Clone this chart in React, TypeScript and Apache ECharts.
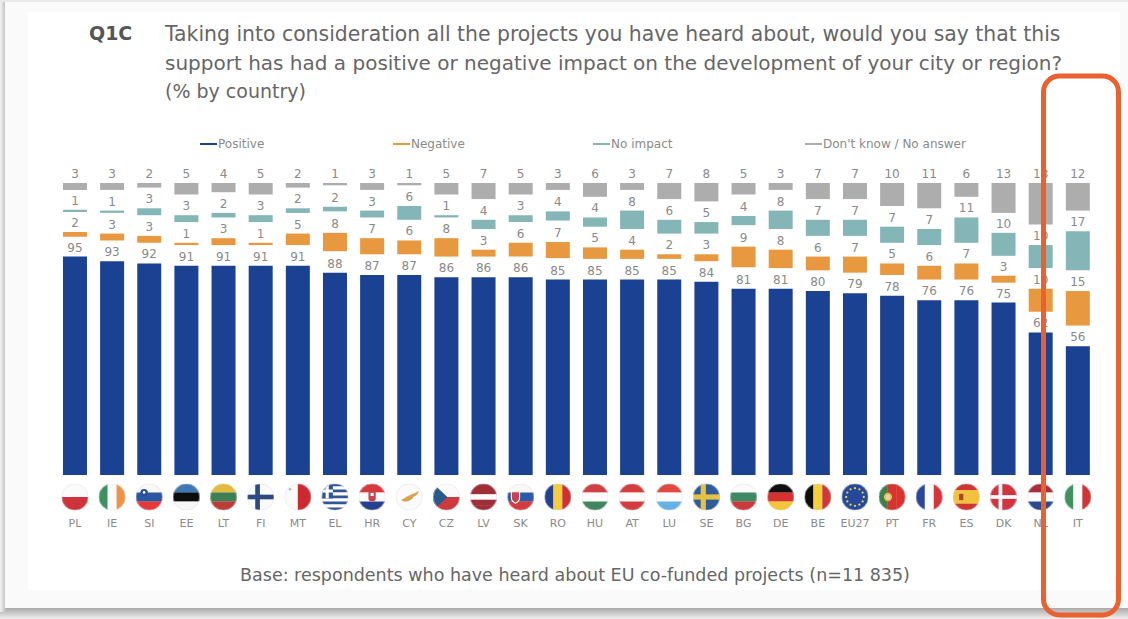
import React, { useEffect, useRef } from "react";
import * as echarts from "echarts";

const categories = ["PL","IE","SI","EE","LT","FI","MT","EL","HR","CY","CZ","LV","SK","RO","HU","AT","LU","SE","BG","DE","BE","EU27","PT","FR","ES","DK","NL","IT"];
const positive = [95,93,92,91,91,91,91,88,87,87,86,86,86,85,85,85,85,84,81,81,80,79,78,76,76,75,62,56];
const negative = [2,3,3,1,3,1,5,8,7,6,8,3,6,7,5,4,2,3,9,8,6,7,5,6,7,3,10,15];
const noImpact = [1,1,3,3,2,3,2,2,3,6,1,4,3,4,4,8,6,5,4,8,7,7,7,7,11,10,10,17];
const dontKnow = [3,3,2,5,4,5,2,1,3,1,5,7,5,3,6,3,7,8,5,3,7,7,10,11,6,13,18,12];

const titleLines = [
  "Taking into consideration all the projects you have heard about, would you say that this",
  "support has had a positive or negative impact on the development of your city or region?",
  "(% by country)",
];
const baseNote = "Base: respondents who have heard about EU co-funded projects (n=11 835)";

const BLUE = "#1b4193";
const ORANGE = "#e8983f";
const TEAL = "#84b6b7";
const GREY = "#adadad";
const TEXT = "#8a8a8a";
const FONT = "'DejaVu Sans', sans-serif";

// The value-axis range: 100 % plus three blank bands that hold the labels.
const BAND = 9;
const AXIS_MAX = 100 + 3 * BAND;

// Rounded shares do not always add up to 100, so the blank bands absorb the
// difference and every column ends at the same height.
const bandHeights = categories.map(
  (_, i) => BAND + (100 - positive[i] - negative[i] - noImpact[i] - dontKnow[i]) / 3,
);

const h = (...c: string[]) =>
  c.map((col, i) => `<rect x="0" y="${(i * 26) / c.length}" width="26" height="${26 / c.length + 0.2}" fill="${col}"/>`).join("");
const v = (...c: string[]) =>
  c.map((col, i) => `<rect y="0" x="${(i * 26) / c.length}" height="26" width="${26 / c.length + 0.2}" fill="${col}"/>`).join("");
const cross = (bg: string, fg: string, w = 5) =>
  `<rect width="26" height="26" fill="${bg}"/><rect x="${10 - w / 2}" width="${w}" height="26" fill="${fg}"/><rect y="${13 - w / 2}" width="26" height="${w}" fill="${fg}"/>`;
const euStars = Array.from({ length: 12 }, (_, i) => {
  const a = (i * Math.PI) / 6;
  return `<circle cx="${13 + 8.5 * Math.cos(a)}" cy="${13 + 8.5 * Math.sin(a)}" r="1.1" fill="#e8d44a"/>`;
}).join("");
const greekStripes = Array.from({ length: 9 }, (_, i) =>
  `<rect y="${(i * 26) / 9}" width="26" height="${26 / 9}" fill="${i % 2 ? "#fff" : "#2f5597"}"/>`,
).join("");

// Drawings clipped into round badges, one for each category.
const flagBodies: Record<string, string> = {
  PL: h("#fbfbfb", "#cf3339"),
  IE: v("#3d9060", "#fbfbfb", "#ee9448"),
  SI: h("#f8f8f8", "#2a56a4", "#e63a3a") + `<circle cx="8" cy="9" r="3.6" fill="#2a4c95"/><circle cx="8" cy="8.6" r="1.3" fill="#fff"/>`,
  EE: h("#3f78b5", "#0c0c0c", "#f7f7f7"),
  LT: h("#e3bb3f", "#3e7f55", "#bd3c37"),
  FI: cross("#fafafa", "#2b4a80", 4.5),
  MT: v("#fafafa", "#cc2a30") + `<circle cx="5.5" cy="5.5" r="1.2" fill="#b9b9b9"/>`,
  EL: greekStripes + `<rect width="11" height="14.4" fill="#2f5597"/><rect x="4" width="3" height="14.4" fill="#fff"/><rect y="5.8" width="11" height="2.9" fill="#fff"/>`,
  HR: h("#d63a3f", "#fbfbfb", "#26408f") + `<rect x="9.5" y="7" width="7" height="10" rx="2" fill="#c9444a"/><rect x="11.5" y="9" width="3" height="3" fill="#fff"/>`,
  CY: `<rect width="26" height="26" fill="#fbfbfb"/><path d="M5 16c3-1 6-4 9-5s5-2 8-4c0 3-3 5-5 6-2 4-8 6-12 3z" fill="#dca04f"/>`,
  CZ: h("#fbfbfb", "#cc3a3f") + `<path d="M0 0L14 13L0 26z" fill="#2a5a8a"/>`,
  LV: h("#9e2f38", "#9e2f38", "#fbfbfb", "#9e2f38", "#9e2f38"),
  SK: h("#f8f8f8", "#2d5aa8", "#d33c3e") + `<path d="M4 8h8v6c0 3-2 4-4 5-2-1-4-2-4-5z" fill="#c9444a" stroke="#fff"/>`,
  RO: v("#24408f", "#f2cd3d", "#cf3036"),
  HU: h("#cf3f43", "#fbfbfb", "#40855c"),
  AT: h("#d43d3d", "#fbfbfb", "#d43d3d"),
  LU: h("#e24a3f", "#fbfbfb", "#66b2e6"),
  SE: cross("#2e5b9a", "#e6c33f", 5),
  BG: h("#fbfbfb", "#3f8a63", "#cc3a3a"),
  DE: h("#0e0e0e", "#d6322f", "#f2c53c"),
  BE: v("#0e0e0e", "#f4d03f", "#d2353a"),
  EU27: `<rect width="26" height="26" fill="#25489b"/>${euStars}`,
  PT: v("#3d7f4d", "#d8332f", "#d8332f") + `<circle cx="9" cy="13" r="4" fill="#e3c14a"/><rect x="7.4" y="11" width="3.2" height="4" fill="#d9d9d9"/>`,
  FR: v("#2a479a", "#fbfbfb", "#d7353c"),
  ES: h("#cf3531", "#f0c23d", "#f0c23d", "#cf3531") + `<rect x="6" y="10" width="4" height="6" fill="#a8442f"/>`,
  DK: cross("#cf3440", "#fbfbfb", 3.6),
  NL: h("#a52f3a", "#fbfbfb", "#2a4a8f"),
  IT: v("#3f9160", "#fbfbfb", "#cf3439"),
};

const flagImage = (code: string) => {
  const svg = `<svg xmlns="http://www.w3.org/2000/svg" width="78" height="78" viewBox="0 0 26 26"><defs><clipPath id="c"><circle cx="13" cy="13" r="13"/></clipPath></defs><g clip-path="url(#c)">${flagBodies[code]}</g><circle cx="13" cy="13" r="12.7" fill="none" stroke="#e2e2e2" stroke-width="0.5"/></svg>`;
  return "data:image/svg+xml;charset=utf-8," + encodeURIComponent(svg);
};

const segment = (name: string, data: number[], color: string) => ({
  name,
  type: "bar" as const,
  stack: "all",
  barWidth: 24,
  data,
  itemStyle: { color },
  label: {
    show: true,
    position: "top" as const,
    distance: 3,
    color: TEXT,
    fontFamily: FONT,
    fontSize: 12,
  },
});

const spacer = (name: string) => ({
  name,
  type: "bar" as const,
  stack: "all",
  barWidth: 24,
  data: bandHeights,
  itemStyle: { color: "transparent" },
  label: { show: false },
  emphasis: { disabled: true },
});

const legendEntry = (name: string, left: number) => ({
  data: [name],
  left,
  top: 138,
  icon: "rect",
  itemWidth: 17,
  itemHeight: 2,
  itemGap: 0,
  padding: 0,
  selectedMode: false,
  textStyle: { color: TEXT, fontFamily: FONT, fontSize: 12, padding: [0, 0, 0, -4] },
});

const option = {
  animation: false,
  backgroundColor: "#ffffff",
  grid: { left: 56.4, right: 31.6, top: 183, bottom: 144 },
  legend: [
    legendEntry("Positive", 200),
    legendEntry("Negative", 393),
    legendEntry("No impact", 593),
    legendEntry("Don't know / No answer", 805),
  ],
  xAxis: {
    type: "category",
    data: categories,
    axisLine: { show: false },
    axisTick: { show: false },
    axisLabel: { margin: 43, color: TEXT, fontFamily: FONT, fontSize: 11, interval: 0 },
  },
  yAxis: { type: "value", min: 0, max: AXIS_MAX, show: false },
  series: [
    segment("Positive", positive, BLUE),
    spacer("gap1"),
    segment("Negative", negative, ORANGE),
    spacer("gap2"),
    segment("No impact", noImpact, TEAL),
    spacer("gap3"),
    segment("Don't know / No answer", dontKnow, GREY),
    {
      type: "custom",
      name: "flags",
      silent: true,
      data: categories.map((_, i) => [i]),
      renderItem: (_: unknown, api: any) => {
        const i = api.value(0);
        const [x, y] = api.coord([i, 0]);
        return {
          type: "image",
          style: { image: flagImage(categories[i]), x: x - 13.5, y: y + 8.5, width: 27, height: 27 },
        };
      },
    },
  ],
  graphic: [
    // Sheet, its drop shadow and the inner white panel.
    {
      type: "rect", z: -5, shape: { x: 0, y: 604, width: 1128, height: 15 },
      style: { fill: new echarts.graphic.LinearGradient(0, 0, 0, 1, [
        { offset: 0, color: "#8f8f8f" }, { offset: 1, color: "#f0f0f0" },
      ]) },
    },
    {
      type: "rect", z: -5, shape: { x: 0, y: 0, width: 6, height: 612 },
      style: { fill: new echarts.graphic.LinearGradient(0, 0, 1, 0, [
        { offset: 0, color: "#f4f4f4" }, { offset: 1, color: "#b9b9b9" },
      ]) },
    },
    { type: "rect", z: -5, shape: { x: 0, y: 0, width: 1128, height: 2 }, style: { fill: "#e9e9e9" } },
    { type: "rect", z: -4, shape: { x: 5, y: 2, width: 1123, height: 606 }, style: { fill: "#fafafa" } },
    { type: "rect", z: -3, shape: { x: 28, y: 12, width: 1092, height: 578 }, style: { fill: "#ffffff" } },
    {
      type: "text", z: 5, x: 89, y: 33,
      style: { text: "Q1C", fill: "#555555", font: `bold 19px ${FONT}`, textVerticalAlign: "middle" },
    },
    ...titleLines.map((text, i) => ({
      type: "text", z: 5, x: 165, y: [34, 63, 91][i],
      style: { text, fill: "#666666", font: `${[20.4, 20, 19][i]}px ${FONT}`, textVerticalAlign: "middle" },
    })),
    {
      type: "text", z: 5, x: 575, y: 575,
      style: { text: baseNote, fill: "#666666", font: `17.5px ${FONT}`, textAlign: "center", textVerticalAlign: "middle" },
    },
    // Orange highlight round the last column.
    {
      type: "rect", z: 50,
      shape: { x: 1043.5, y: 76, width: 75, height: 539, r: 16 },
      style: { fill: "none", stroke: "#e8612f", lineWidth: 5 },
    },
  ],
};

export default function App() {
  const ref = useRef<HTMLDivElement>(null);
  useEffect(() => {
    document.body.style.margin = "0";
    const chart = echarts.init(ref.current!, undefined, { renderer: "svg" });
    chart.setOption(option as any);
    return () => chart.dispose();
  }, []);
  return <div ref={ref} style={{ width: 1128, height: 619 }} />;
}
